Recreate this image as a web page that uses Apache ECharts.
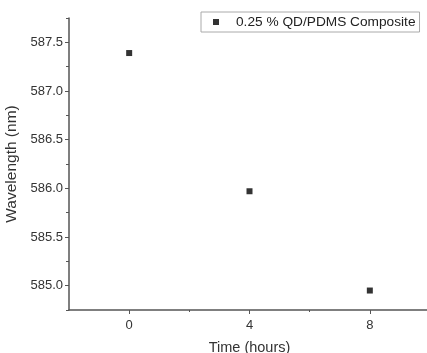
<!DOCTYPE html>
<html>
<head>
<meta charset="utf-8">
<script src="https://cdn.jsdelivr.net/npm/echarts@6/dist/echarts.min.js"></script>
<style>
  html, body { margin: 0; padding: 0; background: #fff; }
  #chart { width: 427px; height: 353px; }
</style>
</head>
<body>
<div id="chart"></div>
<script>
// data
const seriesName = "0.25 % QD/PDMS Composite";
const timeHours = [0, 4, 8];
const wavelength = [587.39, 585.97, 584.95];
const xTicks = [0, 4, 8];
const xMinorTicks = [2, 6];
const yTicks = [585.0, 585.5, 586.0, 586.5, 587.0, 587.5];
const yMinorTicks = [584.75, 585.25, 585.75, 586.25, 586.75, 587.25, 587.75];

const font = "Liberation Sans";
const axisColor = "#555";
const textColor = "#333";

const chart = echarts.init(document.getElementById("chart"));

const baseX = { type: "value", min: -2, max: 10, splitLine: { show: false } };
const baseY = { type: "value", min: 584.75, max: 587.75, splitLine: { show: false } };

chart.setOption({
  animation: false,
  grid: { left: 69, top: 18, right: -3, bottom: 43, containLabel: false, outerBoundsMode: "none" },
  legend: {
    data: [seriesName],
    left: 201,
    top: 12,
    padding: [3, 4, 3, 12],
    borderColor: "#aaa",
    borderWidth: 1,
    icon: "rect",
    itemWidth: 6,
    itemHeight: 6,
    textStyle: { fontFamily: font, fontSize: 13.7, color: "#222", padding: [0, 0, 0, 12] }
  },
  xAxis: [{
    ...baseX,
    name: "Time (hours)",
    nameLocation: "middle",
    nameGap: 30,
    nameTextStyle: { fontFamily: font, fontSize: 14.5, color: textColor },
    axisLine: { onZero: false, lineStyle: { color: axisColor, width: 1.5 } },
    axisTick: { customValues: xTicks, length: 4, lineStyle: { color: axisColor } },
    axisLabel: { customValues: xTicks, fontFamily: font, fontSize: 13, color: textColor, margin: 9 }
  }, {
    ...baseX,
    position: "bottom",
    axisLine: { show: false, onZero: false },
    axisTick: { customValues: xMinorTicks, length: 2, lineStyle: { color: axisColor } },
    axisLabel: { show: false }
  }],
  yAxis: [{
    ...baseY,
    name: "Wavelength (nm)",
    nameLocation: "middle",
    nameGap: 47,
    nameTextStyle: { fontFamily: font, fontSize: 15.5, color: textColor },
    axisLine: { show: true, onZero: false, lineStyle: { color: axisColor, width: 1.5 } },
    axisTick: { show: true, customValues: yTicks, length: 4, lineStyle: { color: axisColor } },
    axisLabel: {
      customValues: yTicks, fontFamily: font, fontSize: 13, color: textColor, margin: 6,
      formatter: v => v.toFixed(1)
    }
  }, {
    ...baseY,
    position: "left",
    axisLine: { show: false, onZero: false },
    axisTick: { show: true, customValues: yMinorTicks, length: 3, lineStyle: { color: axisColor } },
    axisLabel: { show: false }
  }],
  series: [{
    name: seriesName,
    type: "scatter",
    symbol: "rect",
    symbolSize: 6,
    itemStyle: { color: "#000" },
    data: timeHours.map((t, i) => [t, wavelength[i]])
  }]
});
</script>
</body>
</html>
